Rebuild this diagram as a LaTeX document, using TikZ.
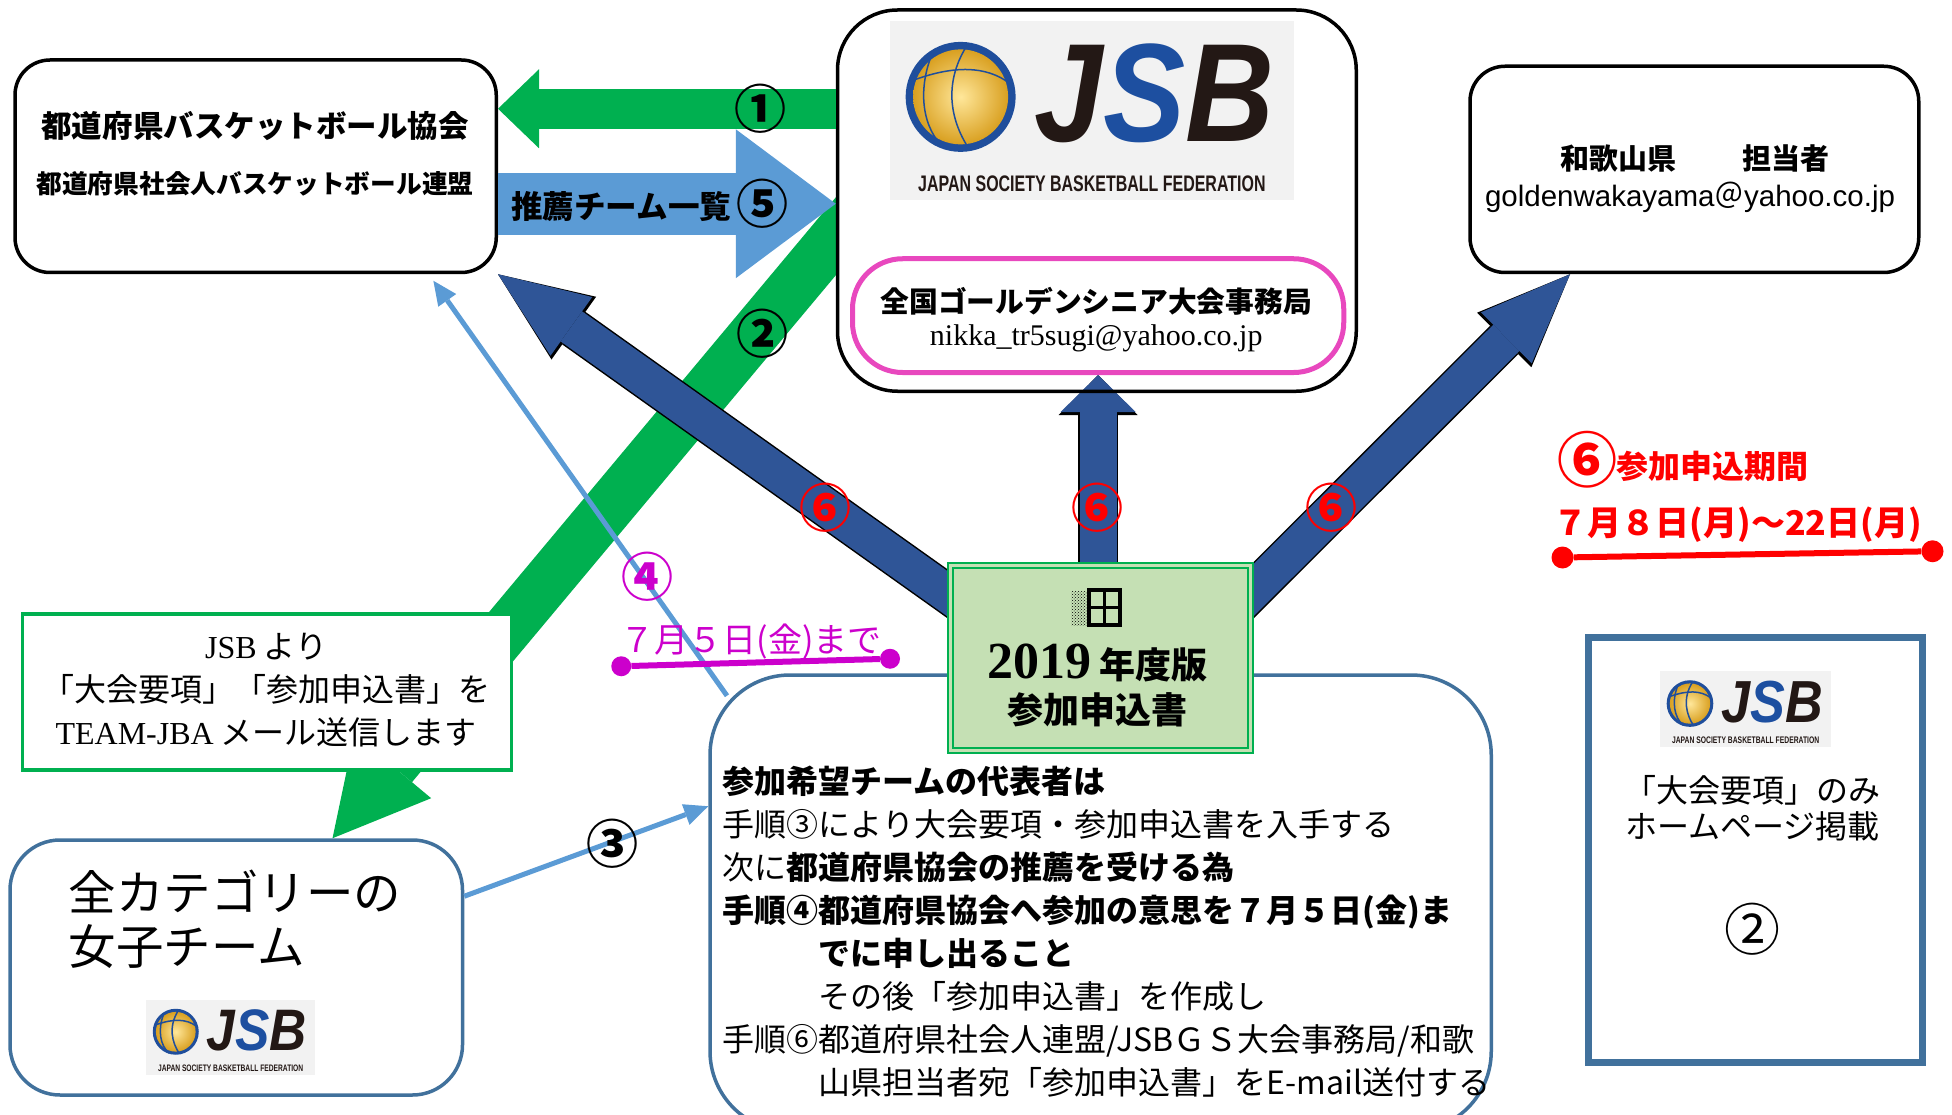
\documentclass[tikz,border=0pt]{standalone}
\usepackage{fontspec}
\setmainfont{Liberation Serif}
\setsansfont{Liberation Sans}
\newfontfamily\jp{Noto Sans CJK JP}
\usetikzlibrary{arrows.meta,fit,calc,patterns}
\definecolor{jgreen}{HTML}{00B050}
\definecolor{ltblue}{HTML}{5B9BD5}
\definecolor{dkblue}{HTML}{2F5597}
\definecolor{boxblue}{HTML}{41719C}
\definecolor{jpink}{HTML}{E848BE}
\definecolor{formgreen}{HTML}{C5E0B4}
\definecolor{jmag}{HTML}{CC00CC}
\definecolor{jred}{HTML}{FF0000}
\definecolor{ballgold}{HTML}{D9A021}
\definecolor{ballhi}{HTML}{FFE79A}
\definecolor{ballblue}{HTML}{1F4E9C}
\definecolor{logogray}{HTML}{F2F2F2}
\definecolor{jsbblue}{HTML}{1D4FA0}
\definecolor{jsbblack}{HTML}{231815}
\newcommand\fs[2]{\fontsize{#1}{#2}\selectfont}
\pgfdeclarelayer{back}
\pgfsetlayers{back,main}
\tikzset{
  roundbox/.style={draw, line width=3.5pt, fill=white, rounded corners=35pt, inner sep=0pt},
  bluebox/.style={draw=boxblue, line width=3.5pt, fill=white, inner sep=0pt},
  block/.style n args={3}{line width=#1, -{Triangle[length=#2, width=#3, line width=0pt]}},
  thinarrow/.style={draw=ltblue, line width=5pt, -{Triangle[length=24pt, width=22pt, line width=0pt]}},
  circ/.style={font=\jp\bfseries\fs{52}{52}, inner sep=0pt},
  dot/.style={circle, fill=#1, inner sep=0pt, minimum size=22pt},
  jsblogo/.pic={
    \fill[logogray] (-161.5,-71.5) rectangle (161.5,71.5);
    \fill[ballblue] (-105,-11) circle[radius=44];
    \shade[inner color=ballhi, outer color=ballgold] (-105,-11) circle[radius=38];
    \draw[ballblue, line width=1.5pt] (-128,-45) .. controls (-140,-15) and (-135,15) .. (-118,30);
    \draw[ballblue, line width=1.5pt] (-100,-52) .. controls (-120,-20) and (-112,10) .. (-98,31);
    \draw[ballblue, line width=1.5pt] (-141,-25) .. controls (-110,-36) and (-85,-36) .. (-66,-22);
    \node[transform shape, shift={(50,-14)}, xscale=0.88, inner sep=0pt, text=jsbblack,
      font=\sffamily\bfseries\itshape\fs{140}{140}] (-word) at (0,0) {J\textcolor{jsbblue}{S}B};
    \node[transform shape, shift={(0,58.5)}, xscale=0.71, inner sep=0pt, text=jsbblack,
      font=\sffamily\bfseries\fs{22.5}{22.5}] (-tag) at (0,0) {JAPAN SOCIETY BASKETBALL FEDERATION};
  }
}
\begin{document}
\begin{tikzpicture}[x=1.25pt,y=-1.25pt]
\useasboundingbox (0,0) rectangle (1561.6,892);
% boxes
\node[roundbox, fit={(12,48) (397,218)}] (assoc) {};
\node[roundbox, fill=none, rounded corners=60pt, fit={(670,8) (1085,313)}] (jsb) {};
\pic (toplogo) at (873.5,88.5) {jsblogo};
\node[draw=jpink, line width=5pt, fill=white, rounded corners=50pt, inner sep=0pt, fit={(682,207) (1075,298)}] (office) {};
\node[roundbox, fit={(1176,53) (1535,218)}] (wak) {};
\node[draw=jgreen, line width=3.5pt, fill=white, inner sep=0pt, fit={(18,491) (409,616)}] (mail) {};
\node[bluebox, rounded corners=50pt, fit={(8,672) (370,876)}] (cats) {};
\pic[scale=0.418] (catlogo) at (184.5,830) {jsblogo};
\node[bluebox, rounded corners=80pt, fit={(568,540) (1193,905)}] (appl) {};
\node[draw=boxblue, line width=7pt, fill=white, inner sep=0pt, fit={(1271,510) (1538,850)}] (web) {};
\pic[scale=0.424] (weblogo) at (1396.5,567.5) {jsblogo};
\node[draw=jgreen, line width=2pt, double=formgreen, double distance=3pt, fill=formgreen, inner sep=0pt, fit={(760,452) (1000,600)}] (form) {};

% arrows behind the boxes
\begin{pgfonlayer}{back}
  \begin{scope}
    \clip (0,0) rectangle (jsb.west |- 0,892);
    \draw[block={50pt}{94pt}{100pt}, draw=jgreen] ($(jsb.west |- 0,189)+(26,-31)$) -- (cats.north -| 266,0);
  \end{scope}
  \draw[block={40pt}{93pt}{77pt}, draw=black] ($(form.north west)+(30,46)$) -- (assoc.south east);
  \draw[block={37pt}{90pt}{72pt}, draw=dkblue] ($(form.north west)+(30,46)$) -- (assoc.south east);
  \draw[block={40pt}{40pt}{79pt}, draw=black] ($(form.north -| office.south)+(0,25)$) -- (office.south);
  \draw[block={37pt}{37pt}{75pt}, draw=dkblue] ($(form.north -| office.south)+(0,25)$) -- (office.south);
  \draw[block={40pt}{93pt}{77pt}, draw=black] ($(form.north east)+(-15,38)$) -- (wak.south -| 1256,0);
  \draw[block={37pt}{90pt}{72pt}, draw=dkblue] ($(form.north east)+(-15,38)$) -- (wak.south -| 1256,0);
\end{pgfonlayer}

\draw[block={40pt}{41pt}{79pt}, draw=jgreen] (jsb.west |- 0,87) -- (assoc.east |- 0,87);
\draw[block={62pt}{100pt}{149pt}, draw=ltblue] (assoc.east |- 0,163) -- (jsb.west |- 0,163);
\draw[thinarrow] (cats.east |- 0,717) -- (appl.west |- 0,645);
\draw[thinarrow, shorten >=8pt] ($(appl.north west)+(15,18)$) -- (assoc.south -| 343,0);

% texts
\node[font=\jp\bfseries\fs{30.5}{30.5}] (assoc1) at (204,101) {都道府県バスケットボール協会};
\node[font=\jp\bfseries\fs{25.7}{25.7}] (assoc2) at (204,147) {都道府県社会人バスケットボール連盟};
\node[font=\jp\bfseries\fs{28.75}{28.75}] (officename) at (877,241) {全国ゴールデンシニア大会事務局};
\node[font=\fs{30}{30}] (officemail) at (877,271) {nikka\_tr5sugi@yahoo.co.jp};
\node[font=\jp\bfseries\fs{29}{29}] (wakname) at (1356,127) {和歌山県　\hspace{1.3em}担当者};
\node[font=\sffamily\fs{29.5}{29.5}] (wakmail) at (1352,158) {goldenwakayama{\jp ＠}yahoo.co.jp};
\node[font=\jp\fs{32}{43}, align=center] (mailtext) at (213,552)
  {{\rmfamily JSB} より\\「大会要項」「参加申込書」を\\{\rmfamily TEAM-JBA} メール送信します};
\node[font=\jp\fs{47.5}{54}, align=left, anchor=west, inner sep=0pt] (catsname) at (55,735.5) {全カテゴリーの\\女子チーム};
\node[font=\jp\fs{32}{36}, align=center] (webtext) at (1402,646.5) {「大会要項」のみ\\ホームページ掲載};
\node[circ, font=\jp\fs{56}{56}] (webnum) at (1402,743) {②};
\node[font=\jp\bfseries\fs{31.6}{31.6}] (listname) at (497,165) {推薦チーム一覧};
\node[font=\jp\bfseries\fs{36}{36}] (formyear) at (878,530) {{\rmfamily\fs{52}{52}2019} 年度版};
\node[font=\jp\bfseries\fs{36}{36}] (formname) at (878,568) {参加申込書};
\fill[pattern=crosshatch dots] (857,473) rectangle (871,500);
\draw[line width=3.5pt] (871,472) rectangle (896,500) (883.5,472) -- (883.5,500) (871,486) -- (896,486);
\node[font=\jp\fs{32}{43}, align=left, anchor=north west, inner sep=0pt] (steps) at (578,613) {%
  \textbf{参加希望チームの代表者は}\\
  手順③により大会要項・参加申込書を入手する\\
  次に\textbf{都道府県協会の推薦を受ける為}\\
  \textbf{手順④都道府県協会へ参加の意思を７月５日(金)ま}\\
  \hspace*{3em}\textbf{でに申し出ること}\\
  \hspace*{3em}その後「参加申込書」を作成し\\
  手順⑥都道府県社会人連盟/JSBＧＳ大会事務局/和歌\\
  \hspace*{3em}山県担当者宛「参加申込書」をE-mail送付する};

% step numbers
\node[circ] (n1) at (608,87) {①};
\node[circ] (n5) at (610,163) {⑤};
\node[circ] (n2) at (610,267) {②};
\node[circ] (n3) at (490,675) {③};
\node[circ, text=jmag] (n4) at (518,461) {④};
\node[circ, text=jred] (n6a) at (660,406) {⑥};
\node[circ, text=jred] (n6b) at (878,406) {⑥};
\node[circ, text=jred] (n6c) at (1065,406) {⑥};

% deadlines
\node[font=\jp\fs{34}{34}, text=jmag] (magdate) at (601,513) {７月５日(金)まで};
\node[dot=jmag, minimum size=20pt] (m1) at (497,533) {};
\node[dot=jmag, minimum size=20pt] (m2) at (712,527) {};
\draw[jmag, line width=6pt] (m1) -- (m2);
\node[circ, text=jred, font=\jp\bfseries\fs{60}{60}] (n6d) at (1270,368) {⑥};
\node[font=\jp\bfseries\fs{32}{32}, text=jred, anchor=west] (period) at (1290,373) {参加申込期間};
\node[font=\jp\bfseries\fs{34}{34}, text=jred, anchor=west, inner sep=0pt] (reddate) at (1243,420) {７月８日(月)～22日(月)};
\node[dot=jred] (r1) at (1250,446) {};
\node[dot=jred] (r2) at (1546,441) {};
\draw[jred, line width=6pt] (r1) -- (r2);
\end{tikzpicture}
\end{document}
